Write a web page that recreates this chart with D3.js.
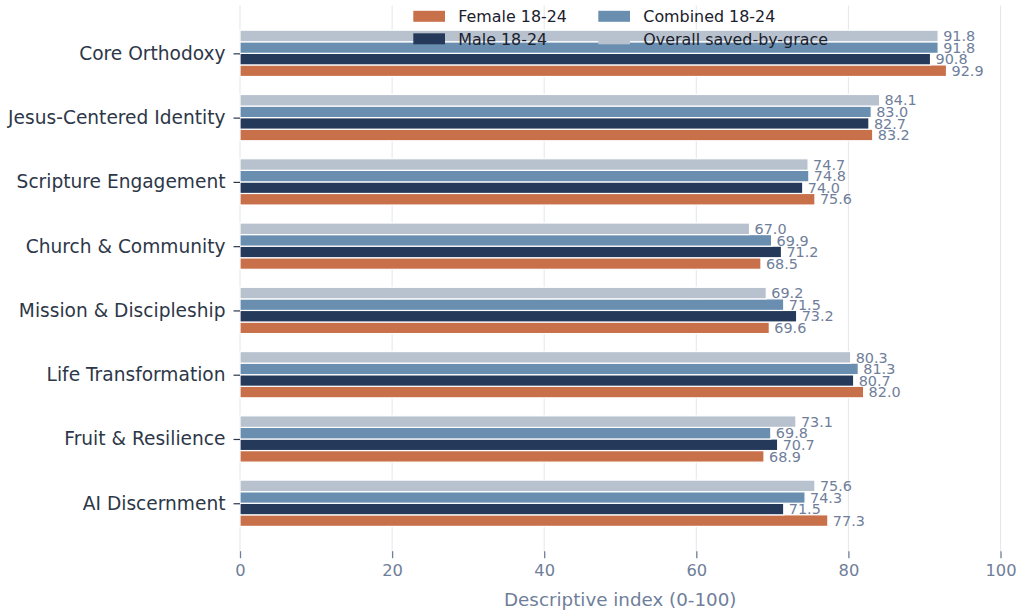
<!DOCTYPE html>
<html>
<head>
<meta charset="utf-8">
<script src="https://cdn.jsdelivr.net/npm/d3@7"></script>
<style>
  html, body { margin: 0; padding: 0; background: #ffffff; }
  svg { display: block; font-family: "DejaVu Sans", sans-serif; }
</style>
</head>
<body>
<svg id="chart" width="1018" height="611"></svg>
<script>
// Dimension names, top to bottom
const categories = [
  "Core Orthodoxy",
  "Jesus-Centered Identity",
  "Scripture Engagement",
  "Church & Community",
  "Mission & Discipleship",
  "Life Transformation",
  "Fruit & Resilience",
  "AI Discernment"
];

// Index values per group
const female18_24   = [92.9, 83.2, 75.6, 68.5, 69.6, 82.0, 68.9, 77.3];
const male18_24     = [90.8, 82.7, 74.0, 71.2, 73.2, 80.7, 70.7, 71.5];
const combined18_24 = [91.8, 83.0, 74.8, 69.9, 71.5, 81.3, 69.8, 74.3];
const overallSaved  = [91.8, 84.1, 74.7, 67.0, 69.2, 80.3, 73.1, 75.6];

const xTicks = [0, 20, 40, 60, 80, 100];
const xLabel = "Descriptive index (0-100)";

// Series in legend order (column-wise fill: Female, Male | Combined, Overall)
const series = [
  { name: "Female 18-24",          values: female18_24,   color: "#c8704a", slot: 1.5 },
  { name: "Male 18-24",            values: male18_24,     color: "#253a5a", slot: 0.5 },
  { name: "Combined 18-24",        values: combined18_24, color: "#6a8eaf", slot: -0.5 },
  { name: "Overall saved-by-grace",values: overallSaved,  color: "#b8c2ce", slot: -1.5 }
];

const svg = d3.select("#chart");
const plot = { left: 240, right: 1000.5, top: 5.4, bottom: 551.2 };
const barH = 0.18;               // bar thickness in category units
const n = categories.length;

const x = d3.scaleLinear().domain([0, 100]).range([plot.left, plot.right]);
// category index axis with 5% margins around the bar extent
const span = (n - 1) + 4 * barH;
const pad = span * 0.05;
const y = d3.scaleLinear()
  .domain([-2 * barH - pad, (n - 1) + 2 * barH + pad])
  .range([plot.top, plot.bottom]);
const unit = y(1) - y(0);

// vertical grid
svg.append("g")
  .selectAll("line")
  .data(xTicks)
  .join("line")
  .attr("x1", d => x(d)).attr("x2", d => x(d))
  .attr("y1", plot.top).attr("y2", plot.bottom)
  .attr("stroke", "#e4e8ee")
  .attr("stroke-width", 1.1);

// bars
const bars = svg.append("g");
series.forEach(s => {
  bars.append("g")
    .selectAll("rect")
    .data(s.values)
    .join("rect")
    .attr("x", x(0))
    .attr("y", (d, i) => y(i + s.slot * barH - barH / 2))
    .attr("width", d => x(d) - x(0))
    .attr("height", barH * unit)
    .attr("fill", s.color)
    .attr("stroke", "#ffffff")
    .attr("stroke-width", 1.2);
});

// value labels
const labels = svg.append("g")
  .attr("font-size", 14.4)
  .attr("fill", "#6f7e9a");
series.forEach(s => {
  labels.append("g")
    .selectAll("text")
    .data(s.values)
    .join("text")
    .attr("x", d => x(d) + 5)
    .attr("y", (d, i) => y(i + s.slot * barH))
    .attr("dy", "0.36em")
    .text(d => d.toFixed(1));
});

// x axis
const xAxis = svg.append("g")
  .attr("transform", `translate(0,${plot.bottom})`)
  .call(d3.axisBottom(x).tickValues(xTicks).tickSize(7).tickPadding(6).tickFormat(d3.format("d")));
xAxis.select(".domain").remove();
xAxis.selectAll(".tick line").attr("stroke", "#6f7e9a").attr("stroke-width", 1.3);
xAxis.selectAll(".tick text")
  .attr("fill", "#6f7e9a")
  .attr("font-size", 16.3)
  .attr("font-family", "DejaVu Sans");

// y axis with category names
const yAxis = svg.append("g")
  .attr("transform", `translate(${plot.left},0)`)
  .call(d3.axisLeft(y).tickValues(d3.range(n)).tickSize(6.5).tickPadding(8)
    .tickFormat(i => categories[i]));
yAxis.select(".domain").remove();
yAxis.selectAll(".tick line").attr("stroke", "#2d3748").attr("stroke-width", 1.2);
yAxis.selectAll(".tick text")
  .attr("fill", "#2d3748")
  .attr("font-size", 18.6)
  .attr("font-family", "DejaVu Sans");

// x axis title
svg.append("text")
  .attr("x", (plot.left + plot.right) / 2)
  .attr("y", 599)
  .attr("dy", "0.36em")
  .attr("text-anchor", "middle")
  .attr("font-size", 18.3)
  .attr("fill", "#6f7e9a")
  .text(xLabel);

// legend, two columns, filled column-wise, no frame
const legend = svg.append("g");
const colX = [413.3, 598.3];
const rowY = [16.3, 38.8];
series.forEach((s, k) => {
  const col = Math.floor(k / 2), row = k % 2;
  const g = legend.append("g").attr("transform", `translate(${colX[col]},${rowY[row]})`);
  g.append("rect")
    .attr("x", 0).attr("y", -5.5)
    .attr("width", 31.7).attr("height", 11)
    .attr("fill", s.color);
  g.append("text")
    .attr("x", 45)
    .attr("dy", "0.36em")
    .attr("font-size", 15.9)
    .attr("fill", "#1a202c")
    .text(s.name);
});
</script>
</body>
</html>
